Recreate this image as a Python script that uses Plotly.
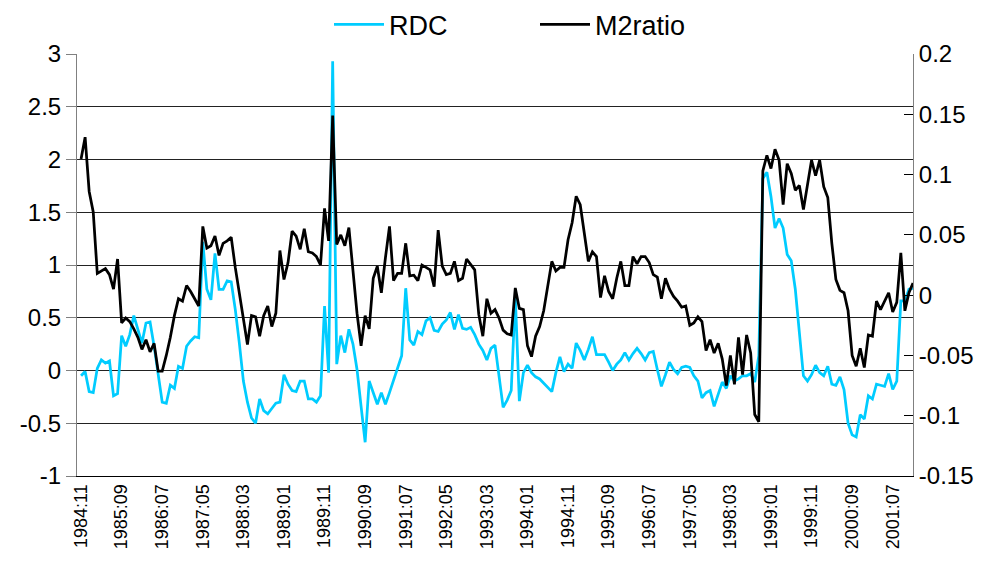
import plotly.graph_objects as go

# monthly categories 1984:11 .. 2002:04
START_YEAR, START_MONTH, N_MONTHS = 1984, 11, 206
months = []
yr, mo = START_YEAR, START_MONTH
for _ in range(N_MONTHS):
    months.append(f"{yr}:{mo:02d}")
    mo += 1
    if mo > 12:
        mo = 1
        yr += 1

rdc = [
    -0.05, -0.01, -0.20, -0.21, 0.02, 0.10, 0.07, 0.09, -0.24, -0.22,
    0.33, 0.23, 0.34, 0.52, 0.39, 0.26, 0.45, 0.46, 0.23, -0.05,
    -0.30, -0.31, -0.14, -0.17, 0.04, 0.02, 0.23, 0.28, 0.32, 0.31,
    1.22, 0.77, 0.67, 1.11, 0.77, 0.77, 0.85, 0.84, 0.58, 0.26,
    -0.10, -0.30, -0.45, -0.50, -0.27, -0.38, -0.41, -0.36, -0.31, -0.30,
    -0.04, -0.13, -0.19, -0.20, -0.10, -0.10, -0.27, -0.27, -0.30, -0.24,
    0.61, -0.02, 2.93, 0.06, 0.33, 0.17, 0.39, 0.25, 0.01, -0.34,
    -0.68, -0.10, -0.21, -0.32, -0.21, -0.32, -0.21, -0.09, 0.03, 0.14,
    0.78, 0.29, 0.24, 0.37, 0.34, 0.47, 0.50, 0.38, 0.37, 0.44,
    0.48, 0.55, 0.39, 0.53, 0.40, 0.39, 0.41, 0.34, 0.25, 0.19,
    0.10, 0.21, 0.24, -0.03, -0.35, -0.28, -0.19, 0.70, -0.29, -0.02,
    0.05, -0.02, -0.06, -0.08, -0.12, -0.15, -0.20, -0.02, 0.13, -0.01,
    0.06, 0.02, 0.26, 0.19, 0.10, 0.20, 0.32, 0.15, 0.15, 0.15,
    0.08, 0.00, 0.06, 0.10, 0.17, 0.10, 0.16, 0.21, 0.16, 0.10,
    0.17, 0.18, 0.01, -0.15, -0.04, 0.08, 0.01, -0.03, 0.03, 0.04,
    0.03, -0.05, -0.10, -0.26, -0.21, -0.19, -0.34, -0.23, -0.11, -0.17,
    -0.05, -0.10, -0.08, -0.05, -0.05, -0.03, -0.11, 0.14, 1.82, 1.88,
    1.65, 1.35, 1.44, 1.35, 1.10, 1.04, 0.77, 0.36, -0.05, -0.10,
    -0.04, 0.05, -0.02, -0.05, 0.04, -0.13, -0.14, -0.06, -0.18, -0.50,
    -0.61, -0.63, -0.42, -0.46, -0.24, -0.27, -0.13, -0.14, -0.15, -0.03,
    -0.18, -0.10, 0.66, 0.66, 0.77, 0.78,
]

m2ratio = [
    0.113, 0.131, 0.086, 0.069, 0.018, 0.020, 0.022, 0.017, 0.005, 0.030,
    -0.023, -0.019, -0.022, -0.028, -0.035, -0.045, -0.037, -0.047, -0.040, -0.063,
    -0.063, -0.050, -0.035, -0.017, -0.003, -0.005, 0.008, 0.003, -0.003, -0.009,
    0.057, 0.039, 0.041, 0.049, 0.033, 0.043, 0.045, 0.048, 0.023, 0.001,
    -0.017, -0.041, -0.017, -0.018, -0.034, -0.017, -0.009, -0.026, -0.015, 0.037,
    0.013, 0.027, 0.053, 0.049, 0.038, 0.055, 0.036, 0.035, 0.032, 0.025,
    0.072, 0.045, 0.149, 0.042, 0.050, 0.041, 0.056, 0.019, -0.015, -0.042,
    -0.017, -0.028, 0.014, 0.024, 0.002, 0.031, 0.057, 0.012, 0.018, 0.018,
    0.043, 0.016, 0.0165, 0.012, 0.025, 0.023, 0.021, 0.007, 0.054, 0.024,
    0.017, 0.018, 0.028, 0.012, 0.014, 0.030, 0.025, 0.021, -0.016, -0.034,
    -0.003, -0.015, -0.012, -0.019, -0.029, -0.032, -0.033, 0.006, -0.011, -0.012,
    -0.042, -0.051, -0.034, -0.026, -0.013, 0.006, 0.028, 0.020, 0.023, 0.023,
    0.046, 0.060, 0.082, 0.075, 0.052, 0.028, 0.036, 0.032, -0.002, 0.016,
    0.003, -0.003, 0.014, 0.028, 0.008, 0.008, 0.032, 0.026, 0.032, 0.032,
    0.027, 0.017, 0.015, -0.003, 0.014, 0.005, -0.001, -0.005, -0.010, -0.009,
    -0.025, -0.023, -0.018, -0.022, -0.046, -0.037, -0.048, -0.040, -0.053, -0.075,
    -0.050, -0.074, -0.035, -0.066, -0.033, -0.048, -0.099, -0.105, 0.103, 0.116,
    0.105, 0.121, 0.112, 0.075, 0.109, 0.101, 0.087, 0.091, 0.071, 0.092,
    0.112, 0.099, 0.112, 0.090, 0.081, 0.043, 0.013, 0.004, 0.002, -0.013,
    -0.050, -0.059, -0.044, -0.060, -0.033, -0.034, -0.005, -0.012, -0.005, 0.002,
    -0.014, -0.006, 0.035, -0.013, 0.002, 0.010,
]

x_ticks = months[::10]
left_ticks = [-1, -0.5, 0, 0.5, 1, 1.5, 2, 2.5, 3]
right_ticks = [-0.15, -0.1, -0.05, 0, 0.05, 0.1, 0.15, 0.2]

CYAN = "#00CCFF"
BLACK = "#000000"
AXIS_GREY = "#808080"
FONT = "Arial, Liberation Sans, sans-serif"

fig = go.Figure()
fig.add_trace(go.Scatter(x=months, y=rdc, name="RDC", mode="lines",
                         line=dict(color=CYAN, width=2.75)))
fig.add_trace(go.Scatter(x=months, y=m2ratio, name="M2ratio", mode="lines",
                         line=dict(color=BLACK, width=2.75), yaxis="y2"))

# page body has an 8px default margin, so the margins are shifted by 8px
fig.update_layout(
    width=997, height=569,
    margin=dict(l=69, r=92, t=46, b=101, autoexpand=False),
    plot_bgcolor="white", paper_bgcolor="white",
    font=dict(family=FONT, color="black", size=24),
    showlegend=True,
    legend=dict(orientation="h", xref="paper", yref="paper",
                x=(321 - 69) / 836, y=1.127, xanchor="left", yanchor="top",
                font=dict(size=27), entrywidth=141, itemwidth=50,
                bgcolor="rgba(0,0,0,0)"),
    xaxis=dict(type="category", range=[-1, 205], tickmode="array",
               tickvals=x_ticks, ticktext=x_ticks, tickangle=-90,
               tickfont=dict(size=18), showgrid=False, showline=True,
               linecolor=BLACK, linewidth=1, ticks="", automargin=False),
    yaxis=dict(range=[-1, 3], tickmode="array", tickvals=left_ticks,
               ticktext=[f"{v:g}" for v in left_ticks],
               showgrid=True, gridcolor="#222222", gridwidth=1, zeroline=False,
               showline=True, linecolor=AXIS_GREY, linewidth=1,
               ticks="outside", ticklen=10, tickcolor=AXIS_GREY,
               automargin=False),
    yaxis2=dict(range=[-0.15, 0.2], tickmode="array", tickvals=right_ticks,
                ticktext=[f"{v:g}" for v in right_ticks],
                overlaying="y", side="right", showgrid=False, zeroline=False,
                showline=True, linecolor=AXIS_GREY, linewidth=1,
                ticks="inside", ticklen=9, tickcolor=BLACK,
                automargin=False),
)

fig.write_html("out.html")
